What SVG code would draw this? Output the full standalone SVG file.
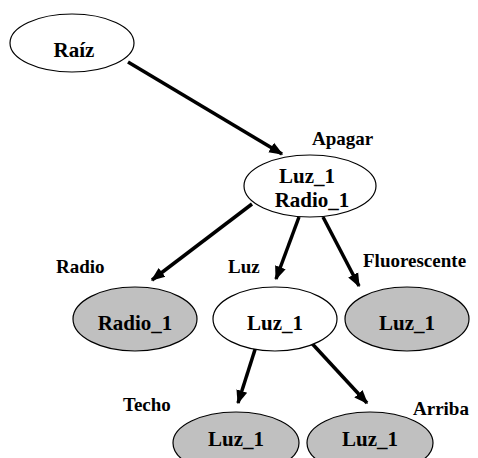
<svg xmlns="http://www.w3.org/2000/svg" width="478" height="458" viewBox="0 0 478 458">
<style>
text{font-family:"Liberation Serif",serif !important;font-weight:bold !important;fill:#000}
.t{font-size:21px;text-anchor:middle}
.l{font-size:19px}
.n{stroke:#000;stroke-width:1.2}
.w{fill:#fff}
.g{fill:#c0c0c0}
.c{stroke:#000;stroke-width:3.5;fill:none;marker-end:url(#a)}
</style>
<defs>
<marker id="a" viewBox="0 0 10 10" refX="9" refY="5" markerWidth="4" markerHeight="4" orient="auto" markerUnits="strokeWidth">
<path d="M0,1 L10,5 L0,9 z" fill="#000"/>
</marker>
</defs>
<rect width="478" height="458" fill="#fff"/>
<g id="connectors">
<line class="c" x1="128" y1="62" x2="282" y2="154"/>
<line class="c" x1="252" y1="204" x2="152" y2="280"/>
<line class="c" x1="299" y1="217" x2="276" y2="279"/>
<line class="c" x1="323" y1="217" x2="359" y2="286"/>
<line class="c" x1="259" y1="337" x2="238" y2="403"/>
<line class="c" x1="306" y1="337" x2="367" y2="403"/>
</g>
<g id="raiz">
<ellipse class="n w" cx="72" cy="43" rx="62" ry="29"/>
<text class="t" x="74" y="57" font-family="Liberation Serif">Raíz</text>
</g>
<g id="apagar">
<ellipse class="n w" cx="310" cy="186" rx="66" ry="31"/>
<text class="l" x="312" y="145" font-family="Liberation Serif">Apagar</text>
<text class="t" x="307" y="183" font-family="Liberation Serif">Luz_1</text>
<text class="t" x="312" y="207" font-family="Liberation Serif">Radio_1</text>
</g>
<g id="radio">
<ellipse class="n g" cx="135" cy="319" rx="62" ry="32"/>
<text class="l" x="56" y="273" font-family="Liberation Serif">Radio</text>
<text class="t" x="135" y="330" font-family="Liberation Serif">Radio_1</text>
</g>
<g id="luz">
<ellipse class="n w" cx="275" cy="319" rx="62" ry="32"/>
<text class="l" x="228" y="273" font-family="Liberation Serif">Luz</text>
<text class="t" x="275" y="330" font-family="Liberation Serif">Luz_1</text>
</g>
<g id="fluorescente">
<ellipse class="n g" cx="407" cy="319" rx="62" ry="32"/>
<text class="l" x="363" y="267" font-family="Liberation Serif">Fluorescente</text>
<text class="t" x="407" y="330" font-family="Liberation Serif">Luz_1</text>
</g>
<g id="techo">
<ellipse class="n g" cx="236" cy="443" rx="63" ry="31"/>
<text class="l" x="123" y="411" font-family="Liberation Serif">Techo</text>
<text class="t" x="236" y="446" font-family="Liberation Serif">Luz_1</text>
</g>
<g id="arriba">
<ellipse class="n g" cx="370" cy="443" rx="63" ry="31"/>
<text class="l" x="413" y="415" font-family="Liberation Serif">Arriba</text>
<text class="t" x="370" y="446" font-family="Liberation Serif">Luz_1</text>
</g>
</svg>
